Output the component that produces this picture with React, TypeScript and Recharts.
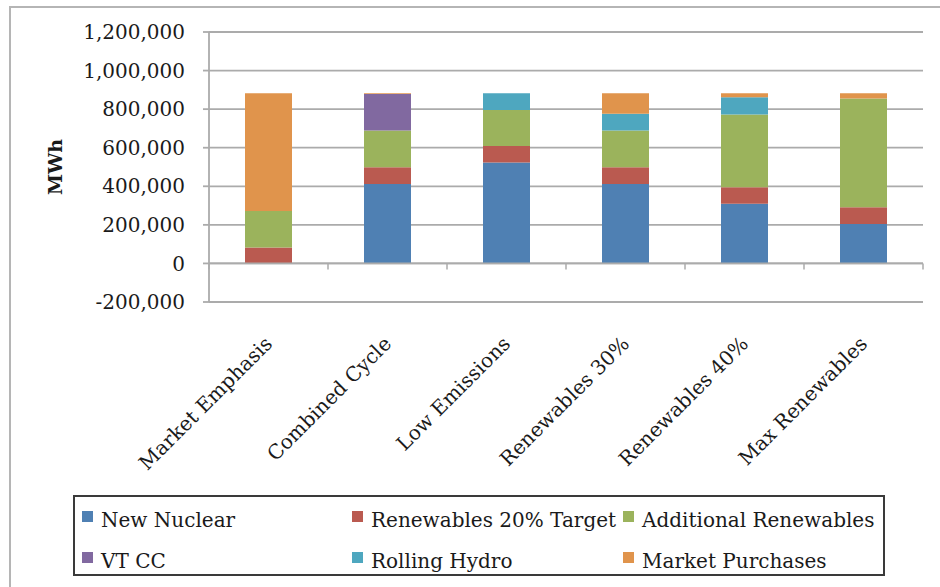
import { BarChart, Bar, XAxis, YAxis, CartesianGrid, ReferenceLine, Label } from "recharts";

const categories = [
  "Market Emphasis",
  "Combined Cycle",
  "Low Emissions",
  "Renewables 30%",
  "Renewables 40%",
  "Max Renewables",
];

const newNuclear = [0, 412000, 523000, 412000, 310000, 204000];
const renewables20 = [83000, 87000, 86000, 87000, 85000, 87000];
const additionalRenewables = [189000, 190000, 187000, 190000, 377000, 564000];
const vtCC = [0, 189000, 0, 0, 0, 0];
const rollingHydro = [0, 0, 87000, 87000, 90000, 0];
const marketPurchases = [611000, 5000, 0, 107000, 21000, 28000];

const yTicks = [-200000, 0, 200000, 400000, 600000, 800000, 1000000, 1200000];

const series = [
  { key: "nuclear", name: "New Nuclear", values: newNuclear, color: "#4F80B3" },
  { key: "ren20", name: "Renewables 20% Target", values: renewables20, color: "#BA5A50" },
  { key: "addRen", name: "Additional Renewables", values: additionalRenewables, color: "#9BB35C" },
  { key: "vtcc", name: "VT CC", values: vtCC, color: "#8169A0" },
  { key: "hydro", name: "Rolling Hydro", values: rollingHydro, color: "#4EA7BF" },
  { key: "market", name: "Market Purchases", values: marketPurchases, color: "#E0944C" },
];

// legend order in the 3x2 box
const legendOrder = ["nuclear", "ren20", "addRen", "vtcc", "hydro", "market"];

const data = categories.map((cat, i) => {
  const row: Record<string, any> = { cat };
  series.forEach((s) => (row[s.key] = s.values[i]));
  return row;
});

const FONT = "'DejaVu Serif', serif";
const GRAY = "#ababab";

const fmt = (v: number) => v.toLocaleString("en-US");

function CatTick({ x, y, payload }: any) {
  return (
    <g transform={`translate(${x + 5},${y + 43})`}>
      <text textAnchor="end" transform="rotate(-45)" fontFamily={FONT} fontSize={20} fill="#1a1a1a">
        {payload.value}
      </text>
    </g>
  );
}

// zero line with category boundary ticks
function ZeroLine(props: any) {
  const { x1, x2, y1 } = props;
  const n = categories.length;
  const step = (x2 - x1) / n;
  return (
    <g>
      <line x1={x1} x2={x2} y1={y1} y2={y1} stroke={GRAY} strokeWidth={1.8} />
      {Array.from({ length: n + 1 }, (_, i) => (
        <line key={i} x1={x1 + i * step} x2={x1 + i * step} y1={y1} y2={y1 + 6} stroke={GRAY} strokeWidth={1.5} />
      ))}
    </g>
  );
}

export default function App() {
  const cols = [82, 352, 623];
  const rows = [520, 561];
  return (
    <div style={{ position: "absolute", left: 0, top: 0, width: 940, height: 587, background: "#fff", overflow: "hidden" }}>
      <div
        style={{
          position: "absolute",
          left: 9,
          top: 6,
          width: 960,
          height: 620,
          borderLeft: "2px solid #b5b5b5",
          borderTop: "2px solid #b5b5b5",
        }}
      />
      <div style={{ position: "absolute", left: 0, top: 0 }}>
        <BarChart width={940} height={587} data={data} margin={{ top: 32, right: 17, bottom: 0, left: 0 }}>
          <CartesianGrid vertical={false} stroke={GRAY} strokeWidth={1.8} />
          <XAxis
            dataKey="cat"
            height={285}
            axisLine={false}
            tickLine={false}
            tickSize={0}
            tickMargin={0}
            interval={0}
            tick={<CatTick />}
          />
          <YAxis
            width={209}
            domain={[-200000, 1200000]}
            ticks={yTicks}
            tickFormatter={fmt}
            axisLine={{ stroke: GRAY, strokeWidth: 1.8 }}
            tickLine={{ stroke: GRAY, strokeWidth: 1.8 }}
            tickSize={6}
            tickMargin={18}
            tick={{ fontFamily: FONT, fontSize: 20, fill: "#1a1a1a" }}
          >
            <Label
              content={({ viewBox }: any) => {
                const cy = viewBox.y + viewBox.height / 2;
                return (
                  <text
                    x={55}
                    y={cy}
                    transform={`rotate(-90 55 ${cy})`}
                    textAnchor="middle"
                    dominantBaseline="central"
                    fontFamily={FONT}
                    fontWeight="bold"
                    fontSize={19}
                    fill="#1a1a1a"
                  >
                    MWh
                  </text>
                );
              }}
            />
          </YAxis>
          {series.map((s) => (
            <Bar key={s.key} dataKey={s.key} name={s.name} stackId="a" fill={s.color} barSize={47} isAnimationActive={false} />
          ))}
          <ReferenceLine y={0} shape={<ZeroLine />} />
        </BarChart>
      </div>
      <div
        style={{
          position: "absolute",
          left: 73,
          top: 495,
          width: 812,
          height: 81,
          boxSizing: "border-box",
          border: "2px solid #3a3a3a",
        }}
      />
      {legendOrder.map((k, i) => {
        const s = series.find((d) => d.key === k)!;
        const x = cols[i % 3];
        const y = rows[Math.floor(i / 3)];
        return (
          <div key={k}>
            <div style={{ position: "absolute", left: x, top: y - 9, width: 11, height: 11, background: s.color }} />
            <div
              style={{
                position: "absolute",
                left: x + 19,
                top: y - 14,
                height: 28,
                lineHeight: "28px",
                fontFamily: FONT,
                fontSize: 20,
                color: "#1a1a1a",
                whiteSpace: "nowrap",
              }}
            >
              {s.name}
            </div>
          </div>
        );
      })}
    </div>
  );
}
